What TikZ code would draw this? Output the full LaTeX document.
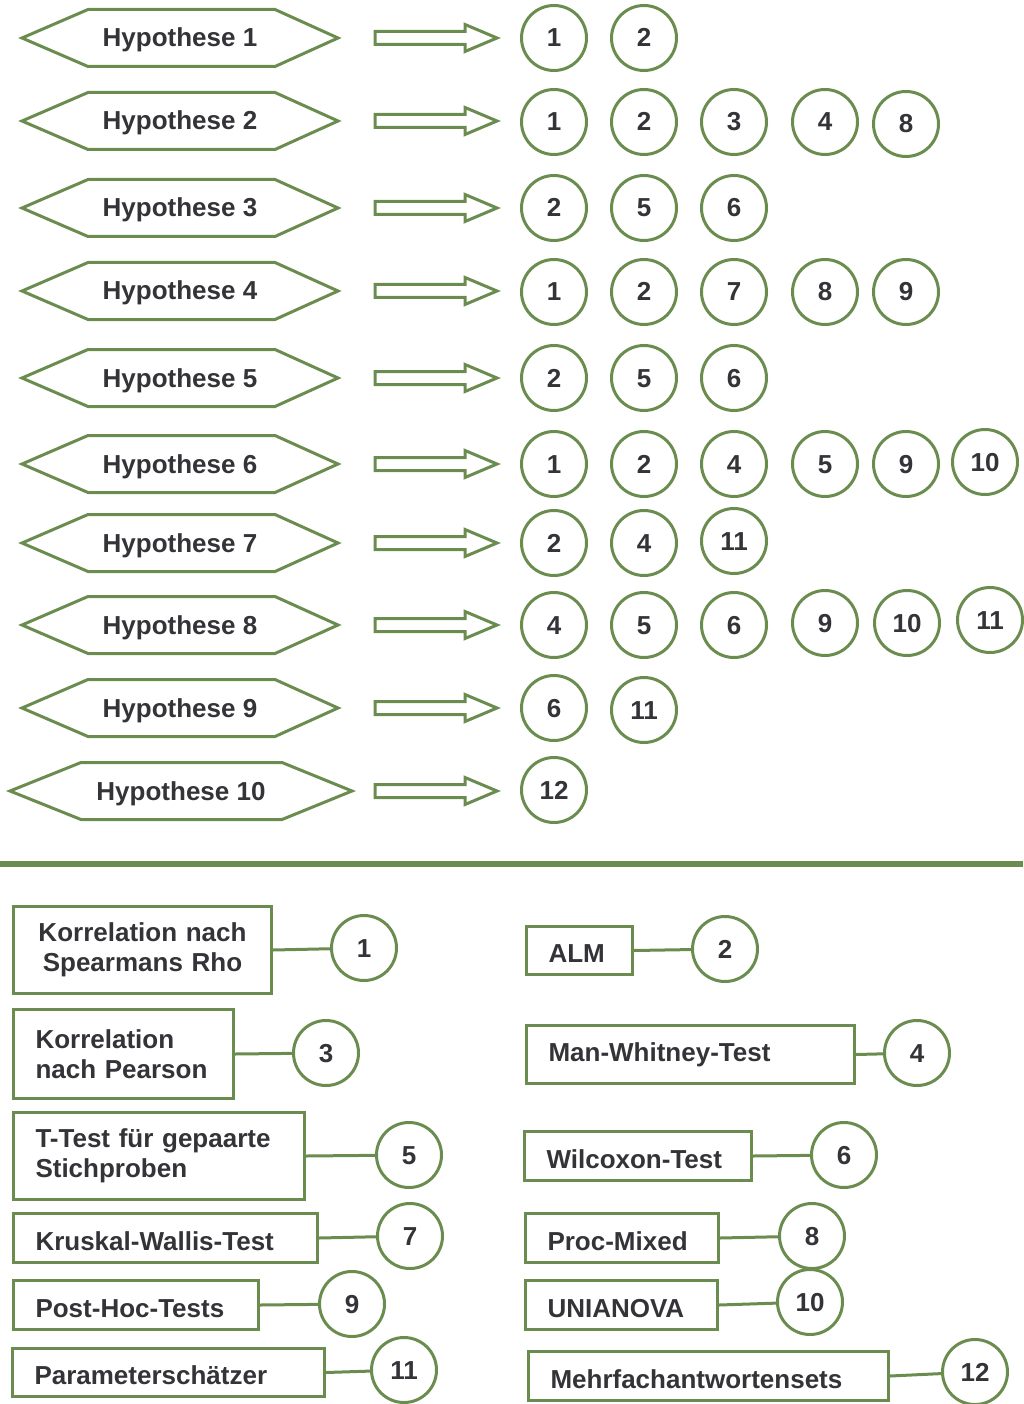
\documentclass[tikz,border=0pt]{standalone}
\usepackage{fontspec}
\setmainfont{Liberation Sans}
\usetikzlibrary{calc}
\definecolor{leaf}{RGB}{106,140,78}
\definecolor{ink}{RGB}{51,51,56}
\begin{document}
\begin{tikzpicture}[x=1pt,y=-1pt,
  every node/.style={text=ink, font=\fontsize{26}{30}\selectfont\bfseries},
  hexlabel/.style={text height=18pt, text depth=0pt},
  hexline/.style={draw=leaf, line width=3pt, line join=miter},
  numcirc/.style={circle, draw=leaf, line width=3pt, minimum size=65pt, inner sep=0pt,
    text height=18pt, text depth=0pt},
  blockarrow/.style={draw=leaf, line width=3pt, line join=miter},
  methodbox/.style={draw=leaf, line width=3pt, inner xsep=22pt, inner ysep=0pt,
    align=left, anchor=north west},
  oneline/.style={methodbox, text height=24pt, text depth=0pt},
  link/.style={draw=leaf, line width=3pt}]
\useasboundingbox (0,0) rectangle (1023,1404);

% hypotheses as double-pointed hexagons
\foreach \n/\y in {1/38,2/121,3/208,4/291,5/378,6/464,7/543,8/625,9/708}{
  \node[hexlabel] (h\n) at (180,\y) {Hypothese \n};
  \draw[hexline] ($(h\n)+(-158,0)$) -- ++(66,-28.5) -- ++(187,0) -- ++(63,28.5)
    -- ++(-63,28.5) -- ++(-187,0) -- cycle;
}
\node[hexlabel] (h10) at (181,791) {Hypothese 10};
\draw[hexline] ($(h10)+(-171,0)$) -- ++(71,-28.5) -- ++(201,0) -- ++(70,28.5)
  -- ++(-70,28.5) -- ++(-201,0) -- cycle;

% outlined block arrows
\foreach \y in {38,121,208,291,378,464,543,625,708,791}{
  \draw[blockarrow] (375,\y) ++(0,-6.5) -- ++(90,0) -- ++(0,-7) -- ++(32,13.5)
    -- ++(-32,13.5) -- ++(0,-7) -- ++(-90,0) -- cycle;
}

% methods used per hypothesis
\foreach \x/\t in {554/1,644/2}
  \node[numcirc] (a\t) at (\x,38) {\t};
\foreach \x/\y/\t in {554/122/1,644/122/2,734/122/3,825/122/4,906/124/8}
  \node[numcirc] (b\t) at (\x,\y) {\t};
\foreach \x/\t in {554/2,644/5,734/6}
  \node[numcirc] (c\t) at (\x,208) {\t};
\foreach \x/\t in {554/1,644/2,734/7,825/8,906/9}
  \node[numcirc] (d\t) at (\x,292) {\t};
\foreach \x/\t in {554/2,644/5,734/6}
  \node[numcirc] (e\t) at (\x,378) {\t};
\foreach \x/\y/\t in {554/464/1,644/464/2,734/464/4,825/464/5,906/464/9,985/462/10}
  \node[numcirc] (f\t) at (\x,\y) {\t};
\foreach \x/\y/\t in {554/543/2,644/543/4,734/541/11}
  \node[numcirc] (g\t) at (\x,\y) {\t};
\foreach \x/\y/\t in {554/625/4,644/625/5,734/625/6,825/623/9,907/623/10,990/620/11}
  \node[numcirc] (k\t) at (\x,\y) {\t};
\foreach \x/\y/\t in {554/708/6,644/710/11}
  \node[numcirc] (m\t) at (\x,\y) {\t};
\node[numcirc] (n12) at (554,790) {12};

% separator
\draw[leaf, line width=6pt] (0,864) -- (1023,864);

% legend, left column
\node[methodbox, text width=214pt, align=center, minimum height=87pt] (L1) at (12,905)
  {Korrelation nach\\Spearmans Rho};
\node[numcirc] (K1) at (364,948) {1};
\node[methodbox, text width=176pt, minimum height=89pt] (L3) at (12,1008)
  {Korrelation\\nach Pearson};
\node[numcirc] (K3) at (326,1053) {3};
\node[methodbox, text width=247pt, minimum height=87pt] (L5) at (12,1111)
  {T-Test für gepaarte\\Stichproben};
\node[numcirc] (K5) at (409,1155) {5};
\node[oneline, text width=260pt, minimum height=49pt] (L7) at (12,1212)
  {Kruskal-Wallis-Test};
\node[numcirc] (K7) at (410,1236) {7};
\node[oneline, text width=201pt, minimum height=49pt] (L9) at (12,1279)
  {Post-Hoc-Tests};
\node[numcirc] (K9) at (352,1304) {9};
\node[oneline, text width=268pt, minimum height=48pt] (L11) at (11,1347)
  {Parameterschätzer};
\node[numcirc] (K11) at (404,1370) {11};

% legend, right column
\node[oneline, text width=62pt, minimum height=48pt] (L2) at (525,925) {ALM};
\node[numcirc] (K2) at (725,949) {2};
\node[methodbox, text width=284pt, minimum height=58pt] (L4) at (525,1024)
  {Man-Whitney-Test};
\node[numcirc] (K4) at (917,1053) {4};
\node[oneline, text width=183pt, minimum height=49pt] (L6) at (523,1130)
  {Wilcoxon-Test};
\node[numcirc] (K6) at (844,1155) {6};
\node[oneline, text width=149pt, minimum height=49pt] (L8) at (524,1212)
  {Proc-Mixed};
\node[numcirc] (K8) at (812,1236) {8};
\node[oneline, text width=148pt, minimum height=49pt] (L10) at (524,1279)
  {UNIANOVA};
\node[numcirc] (K10) at (810,1302) {10};
\node[oneline, text width=316pt, minimum height=49pt] (L12) at (527,1350)
  {Mehrfachantwortensets};
\node[numcirc] (K12) at (975,1372) {12};

% legend links
\foreach \i in {1,...,12}
  \draw[link] (L\i.east) -- (K\i);
\end{tikzpicture}
\end{document}
